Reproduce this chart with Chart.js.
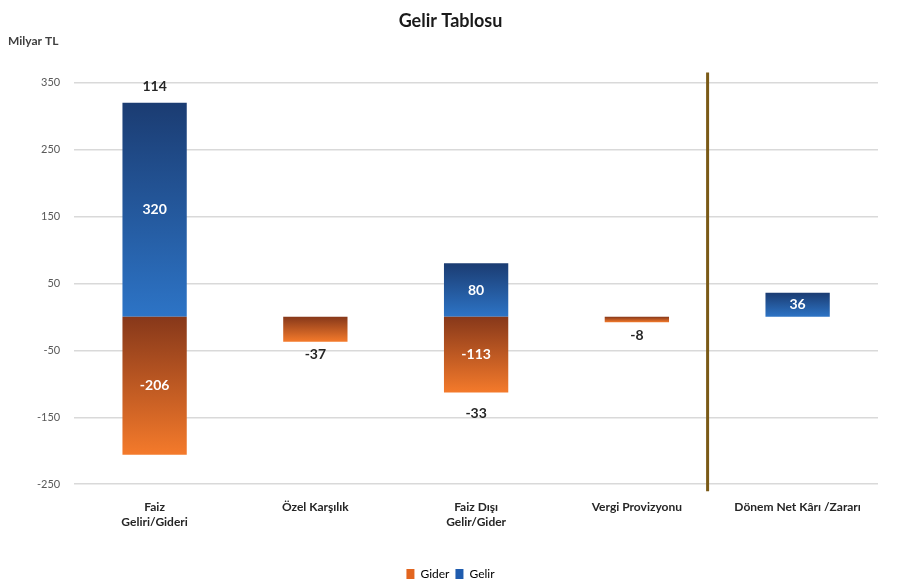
<!DOCTYPE html>
<html>
<head>
<meta charset="utf-8">
<script src="https://cdn.jsdelivr.net/npm/chart.js@4"></script>
<style>
  html, body { margin: 0; padding: 0; background: #fff; }
  #wrap { width: 900px; height: 585px; }
</style>
</head>
<body>
<div id="wrap"><canvas id="gelirChart"></canvas></div>
<script>
const categories = [
  ["Faiz", "Geliri/Gideri"],
  "Özel Karşılık",
  ["Faiz Dışı", "Gelir/Gider"],
  "Vergi Provizyonu",
  "Dönem Net Kârı /Zararı",
];
const giderValues = [-206, -37, -113, -8, null];
const gelirValues = [320, null, 80, null, 36];
const netValues = [114, null, -33, null, null];
const yTicks = [-250, -150, -50, 50, 150, 250, 350];
const separatorAt = 3.44;

const fontFamily = "Lato, 'Open Sans', sans-serif";

// her çubuk için dikey gradyan
function barGradient(context, dark, light) {
  let chart = context.chart;
  if (!chart.chartArea || context.raw == null) return light;
  let y = chart.scales.y;
  let y0 = y.getPixelForValue(0);
  let y1 = y.getPixelForValue(context.raw);
  let g = chart.ctx.createLinearGradient(0, Math.min(y0, y1), 0, Math.max(y0, y1));
  g.addColorStop(0, dark);
  g.addColorStop(1, light);
  return g;
}

// etiketler, ayırıcı çizgi ve birim
const extras = {
  id: "extras",
  afterDatasetsDraw(chart) {
    let ctx = chart.ctx;
    let xs = chart.scales.x;
    let ys = chart.scales.y;
    ctx.save();
    ctx.textAlign = "center";
    ctx.textBaseline = "middle";

    chart.data.datasets.forEach((ds, di) => {
      let meta = chart.getDatasetMeta(di);
      meta.data.forEach((bar, i) => {
        let v = ds.data[i];
        if (v == null) return;
        let stacked = giderValues[i] != null && gelirValues[i] != null;
        let p = bar.getProps(["x", "y", "base"], true);
        ctx.font = "bold 14px " + fontFamily;
        if (stacked || v > 0) {
          ctx.fillStyle = "#ffffff";
          ctx.fillText(String(v), p.x, (p.y + p.base) / 2);
        } else {
          ctx.fillStyle = "#262626";
          ctx.fillText(String(v), p.x, p.y + 13);
        }
      });
    });

    netValues.forEach((v, i) => {
      if (v == null) return;
      let x = xs.getPixelForValue(i);
      let top = ys.getPixelForValue(v > 0 ? gelirValues[i] : giderValues[i]);
      ctx.font = "bold 14px " + fontFamily;
      ctx.fillStyle = "#262626";
      ctx.fillText(String(v), x, v > 0 ? top - 16 : top + 21);
    });

    let sx = xs.getPixelForValue(separatorAt);
    ctx.strokeStyle = "#7a5a17";
    ctx.lineWidth = 3;
    ctx.beginPath();
    ctx.moveTo(sx, chart.chartArea.top - 10);
    ctx.lineTo(sx, chart.chartArea.bottom + 7);
    ctx.stroke();

    ctx.textAlign = "left";
    ctx.font = "bold 12px " + fontFamily;
    ctx.fillStyle = "#404040";
    ctx.fillText("Milyar TL", 8, 41);
    ctx.restore();
  },
};

let ctx = document.getElementById("gelirChart");

let gelirChart = new Chart(ctx, {
  type: "bar",
  data: {
    labels: categories,
    datasets: [
      {
        label: "Gider",
        data: giderValues,
        backgroundColor: (c) => barGradient(c, "#87381a", "#f47a2b"),
        borderWidth: 0,
        barPercentage: 0.4,
        categoryPercentage: 1,
      },
      {
        label: "Gelir",
        data: gelirValues,
        backgroundColor: (c) => barGradient(c, "#1b3c72", "#2d74c6"),
        borderWidth: 0,
        barPercentage: 0.4,
        categoryPercentage: 1,
      },
    ],
  },
  options: {
    responsive: true,
    maintainAspectRatio: false,
    animation: false,
    layout: { padding: { top: 0, right: 22, bottom: -5, left: 23 } },
    plugins: {
      title: {
        display: true,
        text: "Gelir Tablosu",
        color: "#1a1a1a",
        font: { family: fontFamily, size: 18, weight: "bold" },
        padding: { top: 10, bottom: 51 },
      },
      legend: {
        position: "bottom",
        labels: {
          color: "#707070",
          font: { family: fontFamily, size: 12 },
          boxWidth: 8,
          boxHeight: 10,
          padding: 6,
          generateLabels: (chart) =>
            chart.data.datasets.map((ds, i) => ({
              text: ds.label,
              fillStyle: i == 0 ? "#e2651f" : "#1f5cae",
              strokeStyle: "transparent",
              lineWidth: 0,
              datasetIndex: i,
            })),
        },
      },
      tooltip: { enabled: false },
    },
    scales: {
      x: {
        stacked: true,
        grid: { display: false },
        border: { display: false },
        afterFit: (axis) => {
          axis.height += 25;
        },
        ticks: {
          color: "#262626",
          font: { family: fontFamily, size: 12, weight: "bold" },
          padding: 8,
          maxRotation: 0,
          autoSkip: false,
        },
      },
      y: {
        stacked: true,
        min: -250,
        max: 350,
        afterBuildTicks: (axis) => {
          axis.ticks = yTicks.map((v) => ({ value: v }));
        },
        grid: { color: "#d9d9d9", lineWidth: 1.5, drawTicks: false },
        border: { display: false },
        ticks: {
          color: "#595959",
          font: { family: fontFamily, size: 11 },
          padding: 14,
        },
      },
    },
  },
  plugins: [extras],
});
</script>
</body>
</html>
